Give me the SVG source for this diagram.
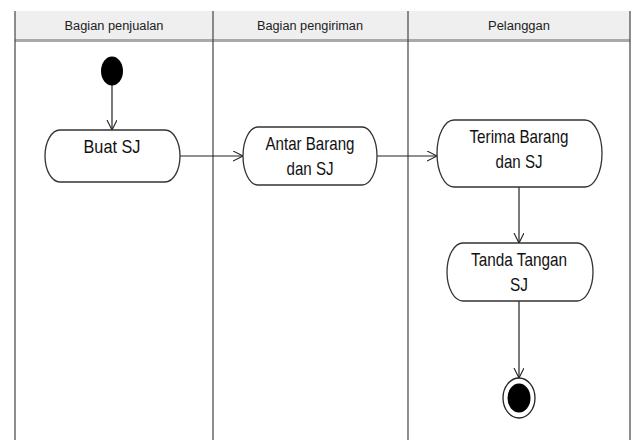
<svg xmlns="http://www.w3.org/2000/svg" width="635" height="440" viewBox="0 0 635 440">
<style>
.hdr{font-family:"Liberation Sans",Arial,sans-serif;font-size:12px;fill:#222;text-anchor:middle}
.lbl{font-family:"Liberation Sans",Arial,sans-serif;font-size:19px;fill:#111;text-anchor:middle}
.node{fill:#fff;stroke:#333;stroke-width:1.3}
.edge{fill:none;stroke:#222;stroke-width:1.2}
.lane{stroke:#444;stroke-width:1.2}
</style>
<defs>
<marker id="arr" markerWidth="12" markerHeight="12" refX="10" refY="5" orient="auto" markerUnits="userSpaceOnUse">
<path d="M0,0 L10,5 L0,10" fill="none" stroke="#222" stroke-width="1.1"/>
</marker>
</defs>
<rect width="635" height="440" fill="#fff"/>
<g id="swimlanes">
<rect x="15" y="11" width="615" height="29" fill="#efefef"/>
<rect x="15" y="39" width="615" height="3" fill="#a9a9a9"/>
<line class="lane" x1="15" y1="11" x2="15" y2="440" stroke="#888"/>
<line class="lane" x1="213" y1="11" x2="213" y2="440" stroke="#777"/>
<line class="lane" x1="408" y1="11" x2="408" y2="440"/>
<line class="lane" x1="630" y1="11" x2="630" y2="440"/>
<text class="hdr" x="114" y="30" textLength="99" lengthAdjust="spacingAndGlyphs">Bagian penjualan</text>
<text class="hdr" x="310" y="30" textLength="106" lengthAdjust="spacingAndGlyphs">Bagian pengiriman</text>
<text class="hdr" x="519" y="30" textLength="62" lengthAdjust="spacingAndGlyphs">Pelanggan</text>
</g>
<g id="connectors">
<line class="edge" x1="112" y1="85" x2="112" y2="130" marker-end="url(#arr)"/>
<line class="edge" x1="180" y1="156" x2="243" y2="156" marker-end="url(#arr)"/>
<line class="edge" x1="377" y1="156" x2="437" y2="156" marker-end="url(#arr)"/>
<line class="edge" x1="519" y1="187" x2="519" y2="243" marker-end="url(#arr)"/>
<line class="edge" x1="519" y1="301" x2="519" y2="378" marker-end="url(#arr)"/>
</g>
<g id="start">
<ellipse cx="112" cy="71" rx="11" ry="14.5" fill="#000"/>
</g>
<g id="buat-sj">
<path class="node" d="M60,130 H165 A15,26 0 0 1 165,182 H60 A15,26 0 0 1 60,130 Z"/>
<text class="lbl" x="112" y="153" textLength="57" lengthAdjust="spacingAndGlyphs">Buat SJ</text>
</g>
<g id="antar-barang">
<path class="node" d="M258,127 H362 A15,29 0 0 1 362,185 H258 A15,29 0 0 1 258,127 Z"/>
<text class="lbl" x="310" y="150" textLength="89" lengthAdjust="spacingAndGlyphs">Antar Barang</text>
<text class="lbl" x="310" y="175" textLength="47" lengthAdjust="spacingAndGlyphs">dan SJ</text>
</g>
<g id="terima-barang">
<path class="node" d="M454,120 H585 A17,33.5 0 0 1 585,187 H454 A17,33.5 0 0 1 454,120 Z"/>
<text class="lbl" x="519" y="143" textLength="99" lengthAdjust="spacingAndGlyphs">Terima Barang</text>
<text class="lbl" x="519" y="168" textLength="47" lengthAdjust="spacingAndGlyphs">dan SJ</text>
</g>
<g id="tanda-tangan">
<path class="node" d="M463,243 H577 A16,29 0 0 1 577,301 H463 A16,29 0 0 1 463,243 Z"/>
<text class="lbl" x="519" y="266" textLength="96" lengthAdjust="spacingAndGlyphs">Tanda Tangan</text>
<text class="lbl" x="519" y="291" textLength="18" lengthAdjust="spacingAndGlyphs">SJ</text>
</g>
<g id="end">
<ellipse cx="519" cy="398" rx="16" ry="20" fill="#fff" stroke="#222" stroke-width="1.3"/>
<ellipse cx="519" cy="398" rx="11.5" ry="14.5" fill="#000"/>
</g>
</svg>
